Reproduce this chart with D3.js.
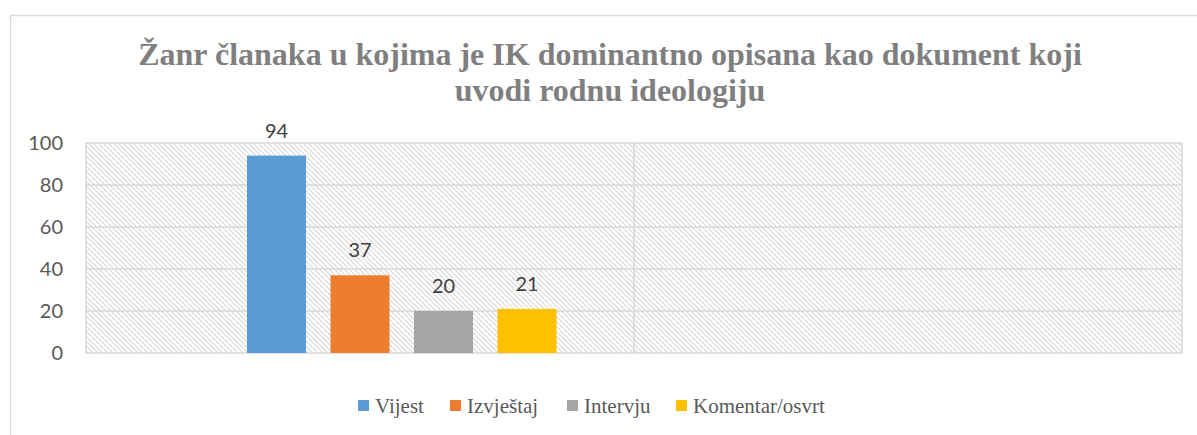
<!DOCTYPE html>
<html>
<head>
<meta charset="utf-8">
<script src="https://cdn.jsdelivr.net/npm/d3@7"></script>
</head>
<body style="margin:0">
<svg id="chart" width="1197" height="435" style="display:block"></svg>
<script>
// data
let titleLines = ["Žanr članaka u kojima je IK dominantno opisana kao dokument koji", "uvodi rodnu ideologiju"];
let categories = ["A", "B"];
let series = ["Vijest", "Izvještaj", "Intervju", "Komentar/osvrt"];
let values = [94, 37, 20, 21];
let colors = ["#5b9bd5", "#ed7d31", "#a5a5a5", "#ffc000"];
let yTicks = [0, 20, 40, 60, 80, 100];

let svg = d3.select("#chart");

// hatch pattern for the plot background
let defs = svg.append("defs");
let pat = defs.append("pattern")
	.attr("id", "hatch")
	.attr("patternUnits", "userSpaceOnUse")
	.attr("width", 5)
	.attr("height", 5);
pat.append("path")
	.attr("d", "M-1,-1 L6,6 M-1,4 L1,6 M4,-1 L6,1")
	.attr("stroke", "#d6d6d6")
	.attr("stroke-width", 1.1);

// outer chart border (runs off the right edge like the original)
svg.append("rect")
	.attr("x", 10.5).attr("y", 15.5)
	.attr("width", 1202).attr("height", 440)
	.attr("fill", "none")
	.attr("stroke", "#d9d9d9")
	.attr("stroke-width", 1.5);

let plot = {left: 86, right: 1182, top: 143, bottom: 353};

let y = d3.scaleLinear().domain([0, 100]).range([plot.bottom, plot.top]);
let x = d3.scaleBand().domain(categories).range([plot.left, plot.right]);
// first slot is empty in the original layout
let slots = [""].concat(series);
let xInner = d3.scaleBand().domain(slots).range([0, x.bandwidth()])
	.paddingInner(0.293).paddingOuter(0.928);

svg.append("rect")
	.attr("x", plot.left).attr("y", plot.top)
	.attr("width", plot.right - plot.left).attr("height", plot.bottom - plot.top)
	.attr("fill", "url(#hatch)")
	.attr("stroke", "#d9d9d9")
	.attr("stroke-width", 1.5);

// gridlines
svg.append("g").selectAll("line")
	.data(yTicks.filter(d => d > 0 && d < 100))
	.join("line")
	.attr("x1", plot.left).attr("x2", plot.right)
	.attr("y1", d => y(d)).attr("y2", d => y(d))
	.attr("stroke", "#d9d9d9")
	.attr("stroke-width", 1.5);

// category divider
svg.append("line")
	.attr("x1", x("B")).attr("x2", x("B"))
	.attr("y1", plot.top).attr("y2", plot.bottom)
	.attr("stroke", "#d9d9d9")
	.attr("stroke-width", 1.5);

// y axis labels
let yAxis = d3.axisLeft(y).tickValues(yTicks).tickSize(0).tickPadding(23);
let gy = svg.append("g").attr("transform", "translate(" + plot.left + ",0)").call(yAxis);
gy.select(".domain").remove();
gy.selectAll("text")
	.style("font-family", "'Lato'")
	.style("font-size", "20px")
	.attr("fill", "#595959");

// bars
let barData = series.map((s, i) => ({name: s, value: values[i], color: colors[i]}));
svg.append("g").selectAll("rect")
	.data(barData)
	.join("rect")
	.attr("x", d => x("A") + xInner(d.name))
	.attr("y", d => y(d.value))
	.attr("width", xInner.bandwidth())
	.attr("height", d => y(0) - y(d.value))
	.attr("fill", d => d.color);

svg.append("g").selectAll("text")
	.data(barData)
	.join("text")
	.attr("x", d => x("A") + xInner(d.name) + xInner.bandwidth() / 2)
	.attr("y", d => y(d.value) - 18)
	.attr("text-anchor", "middle")
	.style("font-family", "'Lato'")
	.style("font-size", "20px")
	.attr("fill", "#404040")
	.text(d => d.value);

// title
svg.selectAll(".title")
	.data(titleLines)
	.join("text")
	.attr("class", "title")
	.attr("x", 610)
	.attr("y", (d, i) => 65 + i * 36)
	.attr("text-anchor", "middle")
	.style("font-family", "'Liberation Serif'")
	.style("font-weight", "bold")
	.style("font-size", "32px")
	.attr("fill", "#7f7f7f")
	.text(d => d);

// legend
let legendX = [358, 450, 567, 676];
let legend = svg.append("g").selectAll("g")
	.data(barData)
	.join("g")
	.attr("transform", (d, i) => "translate(" + legendX[i] + ",400)");
legend.append("rect")
	.attr("width", 11).attr("height", 11)
	.attr("fill", d => d.color);
legend.append("text")
	.attr("x", 17).attr("y", 13)
	.style("font-family", "'Liberation Serif'")
	.style("font-size", "21px")
	.attr("fill", "#595959")
	.text(d => d.name);
</script>
</body>
</html>
